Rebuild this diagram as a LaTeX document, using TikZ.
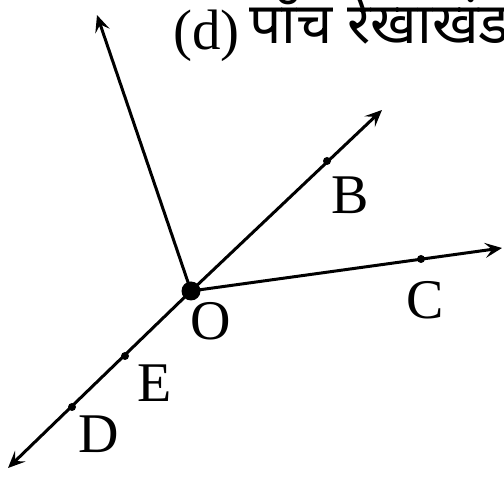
\documentclass[tikz,border=0pt]{standalone}
\usepackage{fontspec}
\setmainfont{Liberation Serif}
\newfontfamily\devfont[Script=Devanagari]{Noto Sans}
\usetikzlibrary{arrows.meta}
\begin{document}
\begin{tikzpicture}[x=1pt,y=1pt,
  ray/.style={line width=3pt, -{Stealth[length=17pt,width=15pt,inset=7pt]}},
  pt/.style={circle, fill=black, inner sep=0pt, minimum size=8pt},
  lbl/.style={inner sep=0pt, font=\fontsize{56}{60}\selectfont}]
\useasboundingbox (0,0) rectangle (504,-478);
% centre
\node[circle, fill=black, inner sep=0pt, minimum size=19pt] (O) at (191,-291) {};
% arrow ends
\coordinate (A) at (97,-15);
\coordinate (Bt) at (382,-110);
\coordinate (Ct) at (502,-248);
\coordinate (Lt) at (8,-468);
\draw[ray] (O.center) -- (A);
\draw[ray] (O.center) -- (Bt);
\draw[ray] (O.center) -- (Ct);
\draw[ray] (O.center) -- (Lt);
% points on rays
\node[pt] (pB) at (327,-161) {};
\node[pt] (pC) at (421,-259) {};
\node[pt] (pE) at (125,-356) {};
\node[pt] (pD) at (72,-407) {};
% labels
\node[lbl] (lO) at (211,-321) {O};
\node[lbl] (lB) at (350,-195) {B};
\node[lbl] (lC) at (425,-300) {C};
\node[lbl] (lE) at (155,-383) {E};
\node[lbl] (lD) at (99,-434) {D};
% title
\node[inner sep=0pt, anchor=base west, font=\fontsize{57}{60}\selectfont] (t1) at (173,-50) {(d)};
\node[inner sep=0pt, anchor=base west, font=\devfont\fontsize{57}{60}\selectfont] (t2) at (249,-44) {पाँच रेखाखंड};
\end{tikzpicture}
\end{document}
